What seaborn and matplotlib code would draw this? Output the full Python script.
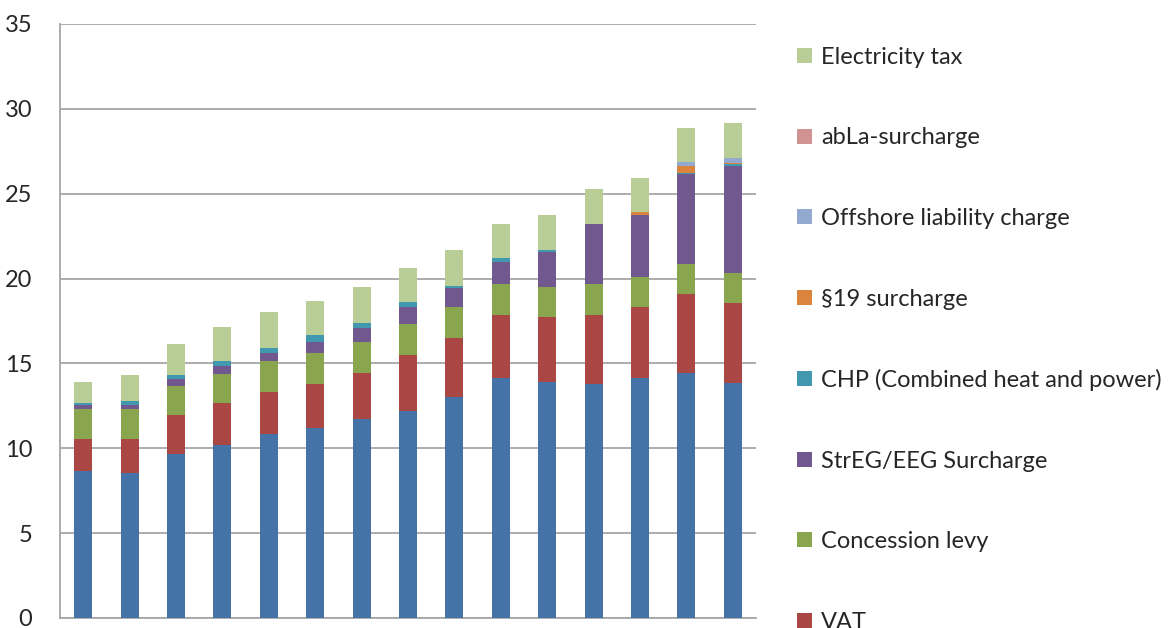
import matplotlib
matplotlib.use("Agg")
import matplotlib.pyplot as plt
import seaborn as sns
import numpy as np
from matplotlib.patches import Patch

years = [str(y) for y in range(2000, 2015)]
base = [8.64, 8.54, 9.68, 10.21, 10.82, 11.21, 11.72, 12.20, 13.02, 14.16, 13.92, 13.77, 14.16, 14.45, 13.85]
vat = [1.89, 1.99, 2.28, 2.44, 2.52, 2.58, 2.73, 3.32, 3.48, 3.69, 3.79, 4.08, 4.14, 4.62, 4.69]
concession = [1.80, 1.80, 1.73, 1.73, 1.80, 1.80, 1.81, 1.80, 1.80, 1.81, 1.81, 1.81, 1.81, 1.81, 1.81]
eeg = [0.24, 0.24, 0.37, 0.45, 0.45, 0.69, 0.85, 0.98, 1.15, 1.29, 2.02, 3.56, 3.64, 5.26, 6.26]
chp = [0.08, 0.23, 0.24, 0.30, 0.32, 0.37, 0.29, 0.32, 0.13, 0.24, 0.16, 0.02, 0.02, 0.08, 0.16]
s19 = [0, 0, 0, 0, 0, 0, 0, 0, 0, 0, 0, 0, 0.13, 0.39, 0.06]
offshore = [0, 0, 0, 0, 0, 0, 0, 0, 0, 0, 0, 0, 0, 0.24, 0.27]
abla = [0, 0, 0, 0, 0, 0, 0, 0, 0, 0, 0, 0, 0, 0, 0.01]
elec_tax = [1.27, 1.52, 1.82, 2.03, 2.12, 2.05, 2.12, 2.02, 2.12, 2.03, 2.05, 2.02, 2.01, 2.02, 2.05]

series = [
    ("Generation, transport and distribution", base, "#4572A7"),
    ("VAT", vat, "#AA4643"),
    ("Concession levy", concession, "#89A54E"),
    ("StrEG/EEG Surcharge", eeg, "#71588F"),
    ("CHP (Combined heat and power)", chp, "#4198AF"),
    ("§19 surcharge", s19, "#DB843D"),
    ("Offshore liability charge", offshore, "#93A9CF"),
    ("abLa-surcharge", abla, "#D19392"),
    ("Electricity tax", elec_tax, "#B9CD96"),
]

sns.set_style("white")
plt.rcParams["font.family"] = ["Lato", "DejaVu Sans"]

fig = plt.figure(figsize=(11.76, 6.28), dpi=100)
ax = fig.add_axes([60 / 1176, 10 / 628, 696 / 1176, 594 / 628])

bottom = np.zeros(len(years))
for name, vals, col in series:
    sns.barplot(x=years, y=vals, bottom=bottom.copy(), color=col, width=0.39,
                saturation=1, ax=ax, edgecolor="none", linewidth=0, zorder=3)
    bottom += np.array(vals)

ax.set_xlim(-0.5, len(years) - 0.5)
ax.set_ylim(0, 35)
ax.set_yticks(np.arange(0, 36, 5))
ax.yaxis.grid(True, color="#A6A6A6", linewidth=1.3, zorder=0)
ax.set_axisbelow(True)
for s in ["top", "right"]:
    ax.spines[s].set_visible(False)
for s in ["left", "bottom"]:
    ax.spines[s].set_color("#A6A6A6")
    ax.spines[s].set_linewidth(1.3)
ax.set_xticks(np.arange(-0.5, len(years), 1.0))
ax.set_xticklabels([])
ax.tick_params(axis="x", length=7, width=1.2, color="#A6A6A6", direction="out")
ax.tick_params(axis="y", length=8, width=1.2, color="#A6A6A6", direction="out",
               labelsize=17, labelcolor="#262626", pad=12)
ax.set_xlabel("")
ax.set_ylabel("")

handles = [Patch(facecolor=col, edgecolor="none") for name, vals, col in series[1:]][::-1]
labels = [name for name, vals, col in series[1:]][::-1]
fig.legend(handles, labels, loc="upper left", bbox_to_anchor=(797 / 1176, 1 - 47 / 628),
           frameon=False, fontsize=17, handlelength=0.62, handleheight=0.62,
           handletextpad=0.4, labelspacing=2.52, borderpad=0, borderaxespad=0,
           labelcolor="#262626")

fig.savefig("out.png", dpi=100)
